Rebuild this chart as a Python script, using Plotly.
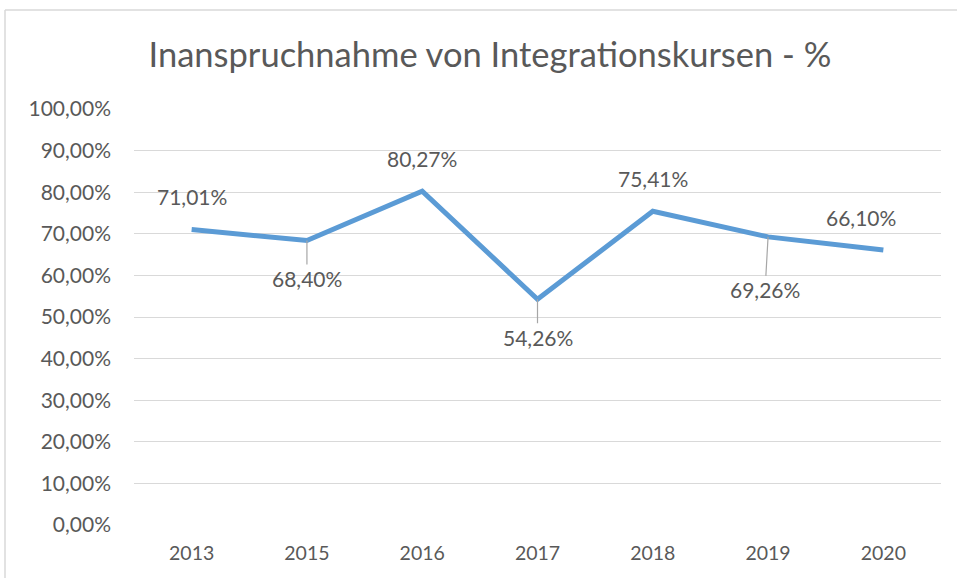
import plotly.graph_objects as go

# Teilnahmequote an Integrationskursen je Jahr (in %)
years = ["2013", "2015", "2016", "2017", "2018", "2019", "2020"]
rates = [71.01, 68.40, 80.27, 54.26, 75.41, 69.26, 66.10]
# Lage der Beschriftung relativ zum Punkt: "above" oder "below" (mit Führungslinie)
label_pos = ["above", "below", "above", "below", "above", "below", "above"]
y_ticks = [0, 10, 20, 30, 40, 50, 60, 70, 80, 90, 100]

FONT = "Lato"
TEXT = "#595959"
LINE = "#5B9BD5"
GRID = "#D9D9D9"


def fmt(v):
    return f"{v:.2f}".replace(".", ",") + "%"


fig = go.Figure()
fig.add_trace(go.Scatter(
    x=years, y=rates, mode="lines",
    line=dict(color=LINE, width=5),
    hoverinfo="skip",
))

# Kategorieachse: Beschriftungen über den Index der Kategorie positionieren
for i, (v, pos) in enumerate(zip(rates, label_pos)):
    if pos == "above":
        fig.add_annotation(
            x=i, y=v, xref="x", yref="y", text=fmt(v), showarrow=False,
            yshift=33, xshift=(-22 if i == len(years) - 1 else 0),
            font=dict(family=FONT, size=21, color=TEXT),
        )
    else:
        fig.add_annotation(
            x=i, y=v, xref="x", yref="y", text=fmt(v), showarrow=True,
            arrowhead=0, arrowwidth=1.2, arrowcolor="#A6A6A6",
            ax=(-3 if i == 5 else 0), ay=(53 if i == 5 else 38),
            font=dict(family=FONT, size=21, color=TEXT),
        )

fig.update_layout(
    width=957, height=578,
    margin=dict(l=134, r=16, t=109, b=53),
    paper_bgcolor="white", plot_bgcolor="white",
    showlegend=False,
    title=dict(
        text="Inanspruchnahme von Integrationskursen - %",
        x=0.512, xanchor="center", y=0.905, yanchor="middle",
        font=dict(family=FONT, size=34.5, color=TEXT),
    ),
    xaxis=dict(
        type="category", range=[-0.5, 6.5],
        showgrid=False, zeroline=False, showline=False,
        ticks="", tickfont=dict(family=FONT, size=19.5, color=TEXT),
        ticklabelstandoff=14,
    ),
    yaxis=dict(
        range=[0, 100], tickmode="array", tickvals=y_ticks,
        ticktext=[fmt(t) for t in y_ticks],
        showgrid=True, gridcolor=GRID, gridwidth=1.3,
        zeroline=False, showline=False, ticks="",
        tickfont=dict(family=FONT, size=21, color=TEXT),
        ticklabelstandoff=22,
    ),
)

# Rahmen des Diagrammbereichs (links und oben)
fx = -129 / 807
fy = (416 + 99) / 416
fig.add_shape(type="line", xref="paper", yref="paper",
              x0=fx, x1=fx, y0=-0.2, y1=fy,
              line=dict(color=GRID, width=1.5))
fig.add_shape(type="line", xref="paper", yref="paper",
              x0=fx, x1=1.1, y0=fy, y1=fy,
              line=dict(color=GRID, width=1.5))

fig.write_html("out.html")
